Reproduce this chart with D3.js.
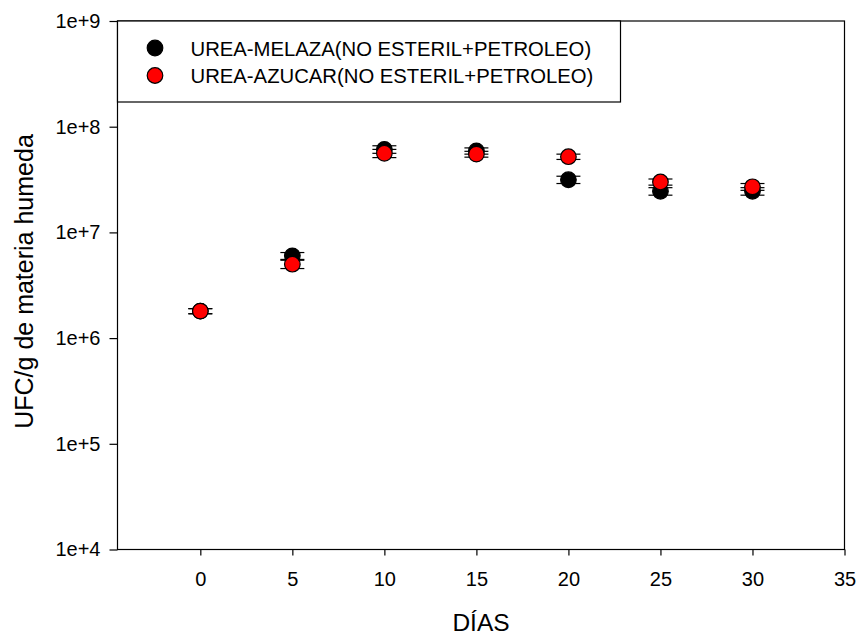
<!DOCTYPE html>
<html>
<head>
<meta charset="utf-8">
<script src="https://cdn.jsdelivr.net/npm/d3@7"></script>
<style>
  body { margin: 0; background: #fff; }
  svg { display: block; font-family: "Liberation Sans", Arial, sans-serif; }
</style>
</head>
<body>
<svg id="chart" width="859" height="635"></svg>
<script>
const days = [0, 5, 10, 15, 20, 25, 30];
const melaza = [1.8e6, 6.0e6, 6.1e7, 5.9e7, 3.15e7, 2.45e7, 2.45e7];
const melazaErr = [0.1e6, 0.45e6, 5e6, 4e6, 2.5e6, 2e6, 2e6];
const azucar = [1.8e6, 5.0e6, 5.6e7, 5.5e7, 5.2e7, 3.0e7, 2.7e7];
const azucarErr = [0.1e6, 0.45e6, 5e6, 3.5e6, 3e6, 2e6, 2e6];
const xTicks = [0, 5, 10, 15, 20, 25, 30, 35];
const yTicks = [1e4, 1e5, 1e6, 1e7, 1e8, 1e9];
const seriesNames = ["UREA-MELAZA(NO ESTERIL+PETROLEO)", "UREA-AZUCAR(NO ESTERIL+PETROLEO)"];
const seriesColors = ["#000000", "#ff0000"];

const svg = d3.select("#chart");
const L = 117.5, R = 844.5, T = 21, B = 549.5;
const x = d3.scaleLinear().domain([-4.5, 35]).range([L, R]);
const y = d3.scaleLog().domain([1e4, 1e9]).range([B, T]);

// frame
svg.append("rect").attr("x", L).attr("y", T).attr("width", R - L).attr("height", B - T)
  .attr("fill", "none").attr("stroke", "#000").attr("stroke-width", 1.2);

// x axis
const xAxis = d3.axisBottom(x).tickValues(xTicks).tickSize(6).tickSizeOuter(0).tickPadding(16)
  .tickFormat(d3.format("d"));
const gx = svg.append("g").attr("transform", `translate(0,${B})`).call(xAxis);
gx.select(".domain").remove();
gx.selectAll("line").attr("stroke", "#000").attr("stroke-width", 1.2);
gx.selectAll("text").attr("font-size", 20).attr("fill", "#000")
  .attr("font-family", "Liberation Sans, Arial, sans-serif");

// y axis
const yAxis = d3.axisLeft(y).tickValues(yTicks).tickSize(8).tickSizeOuter(0).tickPadding(9)
  .tickFormat(d => "1e+" + Math.round(Math.log10(d)));
const gy = svg.append("g").attr("transform", `translate(${L},0)`).call(yAxis);
gy.select(".domain").remove();
gy.selectAll("line").attr("stroke", "#000").attr("stroke-width", 1.2);
gy.selectAll("text").attr("font-size", 20).attr("fill", "#000")
  .attr("font-family", "Liberation Sans, Arial, sans-serif");

// axis titles
svg.append("text").attr("x", (L + R) / 2).attr("y", 631).attr("text-anchor", "middle")
  .attr("font-size", 24.5).text("DÍAS");
svg.append("text").attr("transform", `translate(33,281.5) rotate(-90)`)
  .attr("text-anchor", "middle").attr("font-size", 25).text("UFC/g de materia humeda");

// series
const series = [
  { vals: melaza, errs: melazaErr, color: seriesColors[0] },
  { vals: azucar, errs: azucarErr, color: seriesColors[1] }
];
series.forEach(s => {
  const g = svg.append("g");
  const data = days.map((d, i) => ({ d, v: s.vals[i], e: s.errs[i] }));
  const capW = 12;
  data.forEach(p => {
    const yt = y(p.v + p.e), yb = y(p.v - p.e), xc = x(p.d);
    g.append("line").attr("x1", xc).attr("x2", xc).attr("y1", yt).attr("y2", yb)
      .attr("stroke", "#000").attr("stroke-width", 1.2);
    [yt, yb].forEach(yy => g.append("line").attr("x1", xc - capW).attr("x2", xc + capW)
      .attr("y1", yy).attr("y2", yy).attr("stroke", "#000").attr("stroke-width", 1.2));
  });
  g.selectAll("circle").data(data).join("circle")
    .attr("cx", p => x(p.d)).attr("cy", p => y(p.v)).attr("r", 7.8)
    .attr("fill", s.color).attr("stroke", "#000").attr("stroke-width", 1.2);
});

// legend
const lg = svg.append("g");
lg.append("rect").attr("x", L).attr("y", T).attr("width", 620.5 - L).attr("height", 102 - T)
  .attr("fill", "#fff").attr("stroke", "#000").attr("stroke-width", 1.2);
seriesNames.forEach((name, i) => {
  const cy = 48 + i * 27.5;
  lg.append("circle").attr("cx", 155).attr("cy", cy).attr("r", 7.8)
    .attr("fill", seriesColors[i]).attr("stroke", "#000").attr("stroke-width", 1.2);
  lg.append("text").attr("x", 190.5).attr("y", cy + 7.5).attr("font-size", 20.3).text(name);
});
</script>
</body>
</html>
